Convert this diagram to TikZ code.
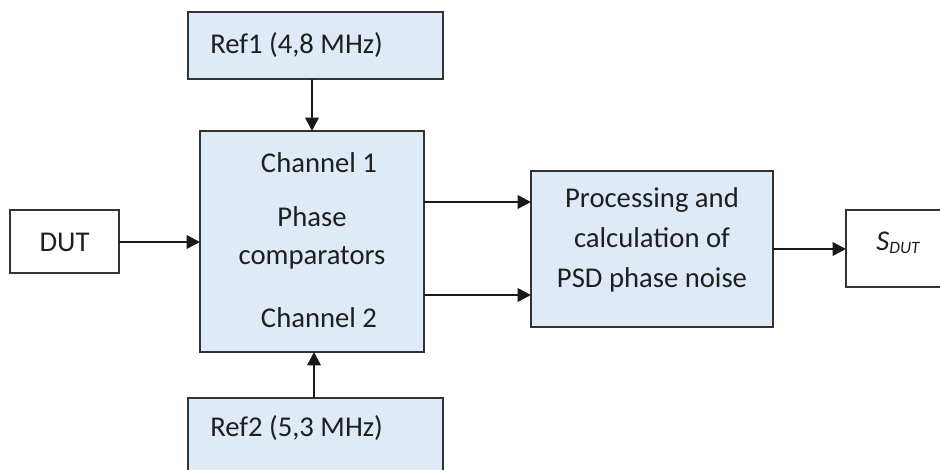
\documentclass[tikz,border=0pt]{standalone}
\usepackage{fontspec}
\setmainfont{Carlito}
\usetikzlibrary{arrows.meta}
\definecolor{boxfill}{HTML}{DEEAF6}
\definecolor{edge}{HTML}{333333}
\tikzset{
  blk/.style={draw=edge, line width=1.8pt, fill=boxfill},
  plain/.style={draw=edge, line width=1.8pt, fill=white},
  lbl/.style={font=\fontsize{21.5}{30}\selectfont, text=black!88, inner sep=0pt},
  conn/.style={line width=1.9pt, draw=black!90, -{Triangle[length=10pt,width=10pt]}}
}
\begin{document}
\begin{tikzpicture}[x=0.75pt,y=-0.75pt]
  \useasboundingbox (0,0) rectangle (940,469);
  \clip (0,0) rectangle (940,469);
  \fill[white] (0,0) rectangle (940,469);

  % reference input 1
  \path[blk] (188,12) rectangle (443,79);
  \node[coordinate] (r1s) at (312,79) {};
  \node[lbl, anchor=west] (ref1) at (210,45) {Ref1 (4,8 MHz)};

  % phase comparator block
  \path[blk] (200,131) rectangle (424,352);
  \coordinate (mt) at (312,131);
  \coordinate (mb) at (314,352);
  \coordinate (ml) at (200,242);
  \coordinate (mr1) at (424,202);
  \coordinate (mr2) at (424,295);
  \node[lbl] (ch1) at (319,163) {Channel 1};
  \node[lbl] (ph) at (312,217) {Phase};
  \node[lbl] (cmp) at (312,258) {comparators};
  \node[lbl] (ch2) at (319,318) {Channel 2};

  % device under test
  \path[plain] (10,210) rectangle (119,273);
  \node[lbl] (dut) at (64.5,242) {DUT};
  \coordinate (dr) at (119,242);

  % reference input 2
  \path[blk] (188,398) rectangle (443,480);
  \coordinate (r2t) at (314,398);
  \node[lbl, anchor=west] (ref2) at (210,428) {Ref2 (5,3 MHz)};

  % processing block
  \path[blk] (531,171) rectangle (773,327);
  \node[lbl, align=center] (proc) at (652,240) {Processing and\\calculation of\\PSD phase noise};
  \coordinate (pl1) at (531,202);
  \coordinate (pl2) at (531,295);
  \coordinate (pr) at (773,249);

  % output
  \path[plain] (846,210) rectangle (960,287);
  \coordinate (sl) at (846,249);
  \node[lbl] (sdut) at (898,243) {\textit{S}\raisebox{-0.25ex}{\fontsize{13}{15}\selectfont\itshape DUT}};

  % connectors
  \draw[conn] (r1s) -- (mt);
  \draw[conn] (r2t) -- (mb);
  \draw[conn] (dr) -- (ml);
  \draw[conn] (mr1) -- (pl1);
  \draw[conn] (mr2) -- (pl2);
  \draw[conn] (pr) -- (sl);
\end{tikzpicture}
\end{document}
